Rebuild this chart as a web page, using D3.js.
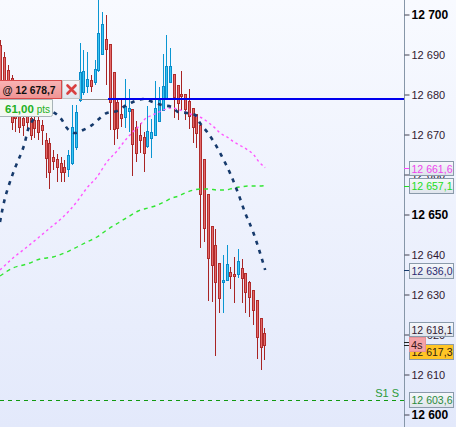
<!DOCTYPE html>
<html><head><meta charset="utf-8">
<script src="https://cdn.jsdelivr.net/npm/d3@7"></script>
<style>html,body{margin:0;padding:0;overflow:hidden;background:#eef2fd}</style>
</head><body><svg id="c" width="456" height="427"></svg>
<script>
// ---- data ----
const candleOpen = [12692.25,12689.25,12686,12684,12676,12674.75,12674,12676,12674,12673.5,12673.5,12672.25,12668.5,12667.75,12664.25,12663.75,12662.75,12661.75,12661.25,12662.75,12666.75,12678.5,12680.5,12682,12683.5,12683,12686,12690,12693.75,12692.5,12685.5,12678,12675,12674.25,12675.75,12676.25,12671.75,12669.75,12669.25,12667,12669,12669.75,12673.25,12676,12678.75,12683,12685,12682.25,12680,12680,12678.25,12676.5,12675,12672.25,12663.75,12655,12647,12642.25,12637.75,12633,12633.5,12635.5,12635,12635,12636.5,12635.25,12633,12631,12628.5,12624,12620.25];
const candleHigh = [12693.5,12690.5,12687.25,12684.75,12678.5,12676.5,12676,12677.25,12675.5,12675,12674.75,12673.5,12670.25,12669,12666,12665,12664.25,12663.5,12666,12677.25,12677.25,12692.75,12691,12690.5,12684.75,12688.5,12703.5,12700.5,12699.75,12692.5,12685.5,12678.5,12678.5,12683.75,12681.25,12676.25,12673.25,12672.75,12670.5,12677,12673.75,12683.25,12681.75,12690,12694.75,12691.5,12685,12682.25,12685.75,12680,12681.25,12676.5,12675,12672.25,12663.75,12655,12647,12646.25,12637.75,12639.75,12642.25,12636.75,12639.25,12641.25,12638.75,12635.25,12633.25,12631,12628.5,12624,12621.5];
const candleLow = [12681,12678.5,12676,12671,12670.5,12670.25,12669.5,12671,12668.5,12669,12668.5,12667.25,12659,12656.25,12661,12658,12658,12658,12659.25,12662.25,12666,12678,12679.75,12680.25,12680.5,12682.25,12685.5,12689.75,12682.25,12671,12667.25,12668.75,12671.75,12671.5,12670.5,12659.5,12663,12665.25,12660.5,12666.5,12664,12669.75,12673.25,12676,12678.75,12682.75,12674,12673.5,12676,12673.5,12671.25,12667.75,12666.5,12641.5,12643,12628.25,12628,12614.5,12625.25,12625.25,12633.5,12631.25,12627.75,12634,12627.75,12625.25,12624.25,12622.25,12613.75,12611,12613.5];
const candleClose = [12682.25,12681,12678.5,12673,12674,12671.75,12672.25,12673,12669.75,12671.5,12670.5,12671,12664,12660.5,12663.25,12661.75,12660.5,12660.5,12664.75,12671.75,12675.5,12685.5,12685.75,12683.75,12682,12686.25,12695.25,12697.5,12691.25,12678,12671.25,12671.5,12674,12677,12676.5,12667.5,12665.25,12668.5,12665.25,12670.75,12670.5,12676.5,12678.5,12682,12687,12687,12679.25,12677.75,12679.5,12676.25,12674.5,12671.75,12670.25,12655,12646.5,12639,12637.25,12633,12629,12633.5,12637.5,12634.5,12634.5,12638.25,12634,12630.5,12629.25,12626,12619.25,12616.75,12617.3];

const navyIdx = [-0.24,0.48,1.09,1.96,2.86,3.74,4.62,5.52,6.39,7.0,8.17,9.84,11.7,13.8,16.2,17.5,19.7,21.8,24.2,26.3,28.1,30.8,32.9,35.0,37.7,40.3,42.7,45.4,47.0,49.4,51.5,52.8,54.7,56.5,58.7,61.0,62.9,64.8,66.9,68.5,70.1];
const navyVal = [12648,12651.5,12654,12656.75,12659.25,12661.5,12663.5,12665.5,12668,12670.5,12673,12675.25,12676,12675.5,12673.5,12671.5,12670.25,12671,12672.25,12674,12675.25,12675.75,12677,12678,12678.75,12678,12677.25,12676.75,12675.5,12675.25,12674.75,12672.75,12670.5,12668,12664.25,12659.75,12655.25,12650.25,12645.5,12641,12636];
const pinkIdx = [-0.24,3.21,6.92,9.84,13.0,16.2,18.3,20.5,22.8,25.5,28.1,30.8,32.4,33.7,35.0,36.9,38.2,39.6,41.4,43.0,45.4,47.5,49.6,51.5,53.3,55.2,56.8,58.1,60.0,61.8,63.7,65.5,67.1,68.5,70.1];
const pinkVal = [12636,12639,12641.75,12644,12646.5,12649,12651,12653.5,12656.5,12659.25,12663,12665.75,12667.75,12669.25,12670.5,12672.25,12673.75,12674.5,12675.25,12676,12676.5,12676,12675.25,12674.5,12674,12672.75,12671.5,12670.25,12669.25,12668,12667,12666,12664.75,12663,12661.6];
const greenIdx = [-0.24,3.21,6.92,10.4,13.8,17.5,20.2,22.8,25.5,28.1,31.1,33.7,36.4,39.0,40.9,43.3,45.4,47.2,48.8,51.2,52.8,55.2,57.3,59.4,61.8,63.4,65.8,67.9,70.1];
const greenVal = [12634.5,12636.5,12637.5,12638.75,12639.25,12640.5,12641.75,12643,12644.25,12646,12647.75,12649.25,12650.75,12651.5,12652,12653,12654,12654.5,12655.25,12656,12656.25,12656.25,12656,12656,12656.5,12656.75,12657,12657,12657.1];

const tickValues = [12600,12610,12620,12630,12640,12650,12660,12670,12680,12690,12700];
const majorTicks = [12600,12650,12700];
const markerPrice = 12678.7;
const markerPts = 61.00;
const supportPrice = 12603.6;
const supportLabel = "S1 S";
const bidPrice = 12618.1;
const lastPrice = 12617.3;
const timerLabel = "4s";

// ---- drawing ----
const svg = d3.select('#c');
const defs = svg.append('defs');
const bgG = defs.append('linearGradient').attr('id','bg').attr('x1',0).attr('y1',0).attr('x2',0).attr('y2',1);
bgG.append('stop').attr('offset','0%').attr('stop-color','#f8faff');
bgG.append('stop').attr('offset','100%').attr('stop-color','#e3e9fb');
const boxG = defs.append('linearGradient').attr('id','boxg').attr('x1',0).attr('y1',0).attr('x2',0).attr('y2',1);
boxG.append('stop').attr('offset','0%').attr('stop-color','#f6f8fb');
boxG.append('stop').attr('offset','100%').attr('stop-color','#dfe4ec');
const redG = defs.append('linearGradient').attr('id','redg').attr('x1',0).attr('y1',0).attr('x2',0).attr('y2',1);
redG.append('stop').attr('offset','0%').attr('stop-color','#f8b4b4');
redG.append('stop').attr('offset','100%').attr('stop-color','#f09494');
defs.append('clipPath').attr('id','plot').append('rect').attr('x',0).attr('y',0).attr('width',404).attr('height',427);

svg.append('rect').attr('width',456).attr('height',427).attr('fill','url(#bg)');

const x = d3.scaleLinear().domain([0,70]).range([0.9,264.8]);
const y = d3.scaleLinear().domain([12600,12700]).range([414,14]);
const loc = d3.formatLocale({decimal:",",thousands:" ",grouping:[3],currency:["",""]});
const f0 = loc.format(",.0f"), f1 = loc.format(",.1f"), f2 = loc.format(",.2f");
const FONT = "'Liberation Sans', Arial, sans-serif";

const plot = svg.append('g').attr('clip-path','url(#plot)');

// support line
plot.append('line').attr('x1',0).attr('x2',404)
  .attr('y1',Math.round(y(supportPrice))+0.5).attr('y2',Math.round(y(supportPrice))+0.5)
  .attr('stroke','#119a11').attr('stroke-width',1.2).attr('stroke-dasharray','4,4');
plot.append('text').attr('x',399).attr('y',397).attr('text-anchor','end')
  .style('font-family',FONT).style('font-size','11px').attr('fill','#2a9a3a').text(supportLabel);

// candles
const candles = candleOpen.map((o,i)=>({i,o,h:candleHigh[i],l:candleLow[i],c:candleClose[i]}));
const cg = plot.append('g');
candles.forEach(d=>{
  const up = d.c >= d.o;
  const cx = Math.floor(x(d.i)) + 0.5;
  cg.append('line').attr('x1',cx).attr('x2',cx).attr('y1',y(d.h)).attr('y2',y(d.l))
    .attr('stroke', up ? '#0a96d2' : '#a82424').attr('stroke-width',1);
  const top = Math.round(y(Math.max(d.o,d.c)));
  const bot = Math.round(y(Math.min(d.o,d.c)));
  cg.append('rect').attr('x',cx-1).attr('y',top+0.5).attr('width',2).attr('height',Math.max(1,bot-top))
    .attr('fill', up ? '#36c6f4' : '#e46a6a').attr('stroke', up ? '#0a8cca' : '#b02c2c').attr('stroke-width',1);
});

// indicator lines
const line = d3.line().x(d=>x(d[0])).y(d=>y(d[1])).curve(d3.curveMonotoneX);
plot.append('path').datum(greenIdx.map((v,k)=>[v,greenVal[k]])).attr('d',line)
  .attr('fill','none').attr('stroke','#33e633').attr('stroke-width',1.4).attr('stroke-dasharray','4,4');
plot.append('path').datum(pinkIdx.map((v,k)=>[v,pinkVal[k]])).attr('d',line)
  .attr('fill','none').attr('stroke','#ff55ff').attr('stroke-width',1.4).attr('stroke-dasharray','2.5,3');
plot.append('path').datum(navyIdx.map((v,k)=>[v,navyVal[k]])).attr('d',line)
  .attr('fill','none').attr('stroke','#163a6c').attr('stroke-width',2.6).attr('stroke-dasharray','4,5.5');

// marker line
const my = Math.round(y(markerPrice));
plot.append('line').attr('x1',80).attr('x2',108).attr('y1',my+0.5).attr('y2',my+0.5).attr('stroke','#909090').attr('stroke-width',1);
plot.append('line').attr('x1',108).attr('x2',404).attr('y1',my).attr('y2',my).attr('stroke','#0000ee').attr('stroke-width',2);

// marker labels
const lab = svg.append('g');
lab.append('rect').attr('x',-0.5).attr('y',80.5).attr('width',62).attr('height',18).attr('fill','url(#redg)').attr('stroke','#d84a4a');
lab.append('text').attr('x',2.5).attr('y',94).style('font-family',FONT).style('font-size','11.5px').style('font-weight','bold')
  .attr('textLength',53).attr('lengthAdjust','spacingAndGlyphs')
  .attr('fill','#111').text('@ ' + f1(markerPrice));
lab.append('rect').attr('x',62.5).attr('y',80.5).attr('width',17).attr('height',18).attr('fill','url(#boxg)').attr('stroke','#c4c4c4');
lab.append('path').attr('d','M67.5,85.5 L75.5,93.5 M75.5,85.5 L67.5,93.5').attr('stroke','#d94040').attr('stroke-width',2.6).attr('stroke-linecap','round');
lab.append('path').attr('d','M-0.5,99.5 H52.5 V114.5 Q52.5,116.5 50.5,116.5 H-0.5 Z').attr('fill','#f3f8f3').attr('stroke','#a8b4b8');
lab.append('text').attr('x',5).attr('y',112.5).style('font-family',FONT).style('font-size','11.5px').style('font-weight','bold')
  .attr('fill','#22b022').text(f2(markerPts))
  .append('tspan').attr('dx',3).style('font-size','10px').style('font-weight','normal').text('pts');

// axis
svg.append('line').attr('x1',404.5).attr('x2',404.5).attr('y1',0).attr('y2',427).attr('stroke','#8696a8').attr('stroke-width',1);
const axis = d3.axisRight(y).tickValues(tickValues).tickSize(5).tickPadding(2).tickFormat(f0);
const gA = svg.append('g').attr('transform','translate(404.5,0.5)').call(axis);
gA.select('.domain').remove();
gA.selectAll('.tick line').attr('stroke','#404050');
gA.selectAll('.tick text')
  .style('font-family',FONT)
  .style('font-size',d=>majorTicks.includes(d)?'12px':'11px')
  .style('font-weight',d=>majorTicks.includes(d)?'bold':'normal')
  .attr('fill',d=>majorTicks.includes(d)?'#000':'#301830');

// axis value boxes
function valueBox(cy, txt, color, fill, h){
  const hh = h || 15;
  const t = Math.round(cy - hh/2) + 0.5;
  svg.append('rect').attr('x',409.5).attr('y',t).attr('width',44).attr('height',hh)
    .attr('fill',fill||'url(#boxg)').attr('stroke','#8a9aaa');
  svg.append('text').attr('x',411.5).attr('y',t+hh/2+4).style('font-family',FONT).style('font-size','11px')
    .attr('textLength',41).attr('lengthAdjust','spacingAndGlyphs')
    .attr('fill',color).text(txt);
}
function axTick(v,color){
  svg.append('line').attr('x1',404).attr('x2',409).attr('y1',Math.round(y(v))+0.5).attr('y2',Math.round(y(v))+0.5)
    .attr('stroke',color).attr('stroke-width',1);
}
axTick(pinkVal[pinkVal.length-1],'#ff44ff');
axTick(greenVal[greenVal.length-1],'#22dd22');
axTick(navyVal[navyVal.length-1],'#163a6c');
axTick(bidPrice,'#222');
axTick(lastPrice,'#222');
valueBox(y(pinkVal[pinkVal.length-1]), f1(pinkVal[pinkVal.length-1]), '#ee44ee', null, 14);
valueBox(y(greenVal[greenVal.length-1]), f1(greenVal[greenVal.length-1]), '#22dd22');
valueBox(y(navyVal[navyVal.length-1]), f1(navyVal[navyVal.length-1]), '#2a2a70');
valueBox(y(bidPrice)-12.5, f1(bidPrice), '#301830', null, 14);
valueBox(y(lastPrice)+7, f1(lastPrice), '#302010', '#ffc526');
valueBox(y(supportPrice), f1(supportPrice), '#2a8a3a');
// timer box
svg.append('rect').attr('x',409.5).attr('y',337.5).attr('width',16).attr('height',14).attr('fill','#f4a2a6').attr('stroke','#e89096');
svg.append('text').attr('x',411).attr('y',348.5).style('font-family',FONT).style('font-size','11px').attr('fill','#3a1a1a').text(timerLabel);
</script></body></html>
